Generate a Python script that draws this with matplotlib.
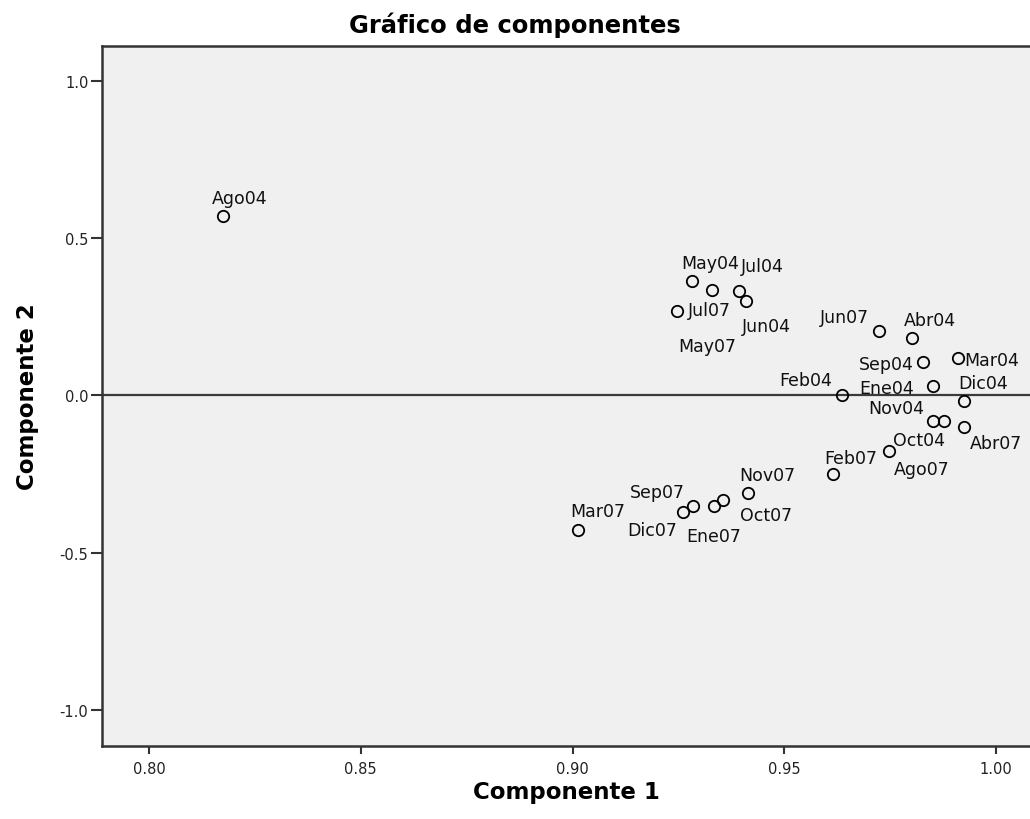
import matplotlib
matplotlib.use("Agg")
import matplotlib.pyplot as plt

plt.rcParams['font.family'] = ['DejaVu Sans']

labels = ["Ago04", "May04", "Jul04", "May07", "Jun04", "Jul07", "Jun07", "Abr04",
          "Sep04", "Mar04", "Ene04", "Feb04", "Dic04", "Nov04", "Oct04", "Abr07",
          "Ago07", "Feb07", "Nov07", "Oct07", "Ene07", "Sep07", "Dic07", "Mar07"]
comp1 = [0.8174, 0.9281, 0.9394, 0.9330, 0.9409, 0.9247, 0.9724, 0.9802,
         0.9828, 0.9910, 0.9852, 0.9636, 0.9925, 0.9852, 0.9876, 0.9925,
         0.9746, 0.9614, 0.9415, 0.9356, 0.9334, 0.9284, 0.9262, 0.9014]
comp2 = [0.569, 0.3625, 0.332, 0.336, 0.298, 0.269, 0.2035, 0.181,
         0.106, 0.119, 0.029, 0.002, -0.019, -0.083, -0.083, -0.100,
         -0.178, -0.252, -0.310, -0.334, -0.353, -0.353, -0.372, -0.427]

xticks = [0.80, 0.85, 0.90, 0.95, 1.00]
yticks = [-1.0, -0.5, 0.0, 0.5, 1.0]

# label placement (pixel offsets: right, down) -- layout only
label_offsets = {
    "Ago04": (-10.7, -13.4), "May04": (-10, -13.4), "Jul04": (1.7, -19.6),
    "May07": (-34, 61.7), "Jun04": (-4, 29.7), "Jul07": (11, 4),
    "Jun07": (-59.7, -9), "Abr04": (-8, -13.7), "Sep04": (-64, 7),
    "Mar04": (6.3, 7.7), "Ene04": (-74, 6.6), "Feb04": (-62.4, -10),
    "Dic04": (-6, -13.4), "Nov04": (-65, -8.4), "Oct04": (-50.6, 23.3),
    "Abr07": (5.7, 21.7), "Ago07": (5, 22.6), "Feb07": (-8.7, -11.7),
    "Nov07": (-9.3, -12.6), "Oct07": (16.7, 19.3), "Ene07": (-27.3, 35),
    "Sep07": (-63.4, -9.4), "Dic07": (-56, 22.3), "Mar07": (-8.3, -13.3),
}

W, H = 1030, 820
fig = plt.figure(figsize=(W / 100, H / 100), dpi=100)
fig.patch.set_facecolor('white')
ax = fig.add_axes([102.3 / W, (H - 746.7) / H, 1 - 102.3 / W, (746.7 - 47.3) / H])
ax.set_facecolor('#F0F0F0')

ax.set_xlim(0.789, 1.008)
ax.set_ylim(-1.114, 1.109)

edge = '#333333'
ax.axhline(0.0, color='#3a3a3a', lw=1.6, zorder=1)
ax.plot(comp1, comp2, linestyle='none', marker='o', markersize=8.2,
        markerfacecolor='none', markeredgecolor='black', markeredgewidth=1.3, zorder=3)

for name, x, y in zip(labels, comp1, comp2):
    dx, dy = label_offsets[name]
    ax.annotate(name, (x, y), xytext=(dx, -dy), textcoords='offset pixels',
                ha='left', va='baseline', fontsize=12.5, color='#111111')

ax.set_xticks(xticks)
ax.set_xticklabels([f"{v:.2f}" for v in xticks])
ax.set_yticks(yticks)
ax.set_yticklabels([f"{v:.1f}" for v in yticks])

for side in ['top', 'left', 'bottom']:
    ax.spines[side].set_color(edge)
    ax.spines[side].set_linewidth(1.8)
ax.spines['right'].set_visible(False)

ax.tick_params(axis='x', length=6, width=1.5, color=edge, labelsize=10.5, pad=5, labelcolor='#222222')
ax.tick_params(axis='y', length=8, width=1.5, color=edge, labelsize=10.5, pad=2, labelcolor='#222222')

fig.text(0.5, 1 - 25 / H, "Gráfico de componentes", ha='center', va='center',
         fontsize=17.5, fontweight='bold')
fig.text((102.3 + 1030) / 2 / W, 1 - 793 / H, "Componente 1", ha='center', va='center',
         fontsize=16.5, fontweight='bold')
fig.text(28 / W, 1 - 397 / H, "Componente 2", ha='center', va='center',
         fontsize=16.5, fontweight='bold', rotation=90)

fig.savefig("out.png", dpi=100)
